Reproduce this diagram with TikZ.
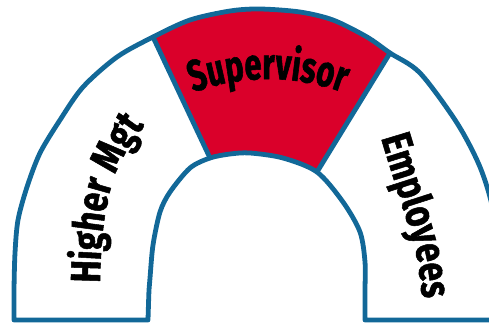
\documentclass[tikz,border=0pt]{standalone}
\usepackage{fontspec}
\usetikzlibrary{decorations.text}
\newfontfamily\condfont{Fira Sans}[FakeStretch=0.8,FakeBold=1.2]
\newfontfamily\narrowfont{Fira Sans}[FakeStretch=0.7,FakeBold=1.3]
\newcommand\lblfont{\condfont\bfseries\fontsize{42}{42}\selectfont}
\newcommand\suplblfont{\narrowfont\bfseries\fontsize{44}{44}\selectfont}
\definecolor{bandblue}{RGB}{18,104,152}
\definecolor{supred}{RGB}{218,0,42}
\tikzset{
  bandline/.style={draw=bandblue,line width=4.8pt,line join=round,line cap=round},
  curvedlabel/.style={decorate,decoration={text along path,text align=#1}},
}
\begin{document}
\begin{tikzpicture}[x=1pt,y=-1pt]
\useasboundingbox (0,0) rectangle (489,326);
\clip (0,0) rectangle (489,326);
% divider end points
\coordinate (LO) at (153,37);
\coordinate (LI) at (210,158);
\coordinate (RO) at (390,53);
\coordinate (RI) at (317,172);
\def\bandpath{plot[smooth] coordinates {(14,320) (14,290) (15,253) (18,220) (27,187) (40,153) (60,120) (83,87) (117,57) (153,37) (190,20) (230,11) (260,9) (300,12) (333,20) (367,37) (390,53) (420,73) (457,123) (480,167) (493,210) (498,260) (499,290) (499,320)}
  -- plot[smooth] coordinates {(365,320) (365,290) (365,262) (360,232) (343,202) (317,172) (283,158) (250,153) (230,154) (210,158) (190,168) (170,192) (160,212) (153,245) (150,278) (149,290) (148,320)} -- cycle}
% red middle segment
\begin{scope}
  \clip \bandpath;
  \fill[supred] (128.5,-15) -- (220,179) -- (305.4,191) -- (431.7,-15) -- cycle;
\end{scope}
% outline
\path[bandline] \bandpath;
\draw[bandline] (LO) -- (LI);
\draw[bandline] (RO) -- (RI);
% labels (normal y direction here)
\begin{scope}[y=1pt]
\path[curvedlabel=center,decoration={text={|\suplblfont|Supervisor}}]
  (144.1,-118.1) arc[start angle=125,end angle=55,radius=216];
\path[curvedlabel=left,decoration={text={|\lblfont|Higher Mgt}}]
  (100,-283) .. controls (101,-230) and (106,-190) .. (122,-160)
  .. controls (136,-134) and (156,-108) .. (185,-80);
\path[curvedlabel=left,decoration={text={|\lblfont|Employees}}]
  (381,-138) .. controls (397,-192) and (412,-232) .. (417,-257)
  .. controls (421,-282) and (423,-300) .. (423,-320);
\end{scope}
\end{tikzpicture}
\end{document}
